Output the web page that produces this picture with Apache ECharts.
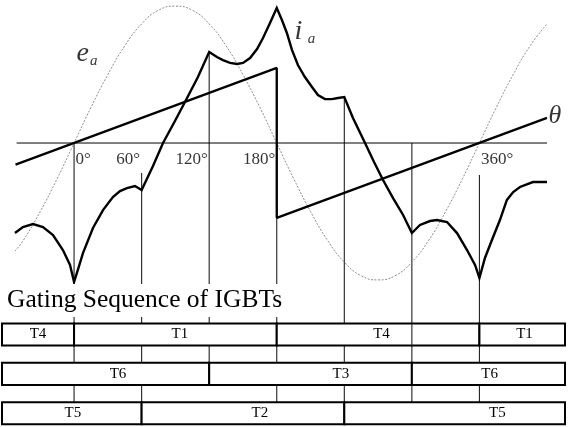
<!DOCTYPE html>
<html>
<head>
<meta charset="utf-8">
<script src="https://cdn.jsdelivr.net/npm/echarts@6/dist/echarts.min.js"></script>
<style>
  html, body { margin: 0; padding: 0; background: #fff; }
  #c { width: 571px; height: 427px; }
</style>
</head>
<body>
<div id="c"></div>
<script>
// ---- phase-a waveforms against electrical angle (degrees) ----
// phase voltage e_a (per unit)
const eaAngles = [-52.5, -45, -30, -15, 0, 15, 30, 45, 60, 75, 90, 105, 120, 135, 150, 165, 180,
  195, 210, 225, 240, 255, 270, 285, 300, 315, 330, 345, 360, 375, 390, 405, 420];
const eaValues = [-0.79, -0.71, -0.5, -0.26, 0, 0.26, 0.5, 0.71, 0.87, 0.97, 1, 0.97, 0.87, 0.71, 0.5, 0.26, 0,
  -0.26, -0.5, -0.71, -0.87, -0.97, -1, -0.97, -0.87, -0.71, -0.5, -0.26, 0, 0.26, 0.5, 0.71, 0.87];

// phase current i_a (per unit)
const iaAngles = [-52.5, -45.4, -36.5, -27.6, -18.7, -9.9, -3.6, 0,
  4.4, 7.9, 16.8, 25.7, 34.5, 40.8, 47.0, 54.1, 60,
  70.1, 79.0, 89.6, 98.5, 110.0, 120,
  126.9, 132.2, 138.5, 144.7, 150.0, 156.3, 162.5, 167.8, 174.0, 180,
  184.6, 189.0, 193.5, 198.8, 205.0, 211.3, 216.6, 222.8, 229.0, 234.4, 240,
  247.7, 258.4, 266.4, 274.4, 283.3, 292.2, 300,
  307.2, 316.1, 322.3, 331.2, 340.1, 349.0, 356.1, 360,
  364.9, 371.1, 378.2, 384.4, 390.0, 396.0, 407.5, 420];
const iaValues = [-0.658, -0.614, -0.592, -0.614, -0.672, -0.782, -0.891, -1.016,
  -0.899, -0.804, -0.621, -0.490, -0.395, -0.351, -0.329, -0.314, -0.343,
  -0.168, 0, 0.161, 0.300, 0.482, 0.665,
  0.628, 0.606, 0.585, 0.577, 0.585, 0.621, 0.687, 0.767, 0.877, 0.986,
  0.899, 0.804, 0.680, 0.570, 0.482, 0.409, 0.351, 0.321, 0.321, 0.329, 0.336,
  0.183, 0, -0.139, -0.270, -0.402, -0.526, -0.658,
  -0.599, -0.570, -0.563, -0.577, -0.658, -0.782, -0.891, -0.986,
  -0.840, -0.709, -0.563, -0.416, -0.358, -0.321, -0.285, -0.285];

// rotor position theta (wraps from +180 to -180 degrees)
const thetaAngles = [-52, 180, 180, 420];
const thetaValues = [-52, 180, -180, 60];

// horizontal reference axis extent
const axisSpan = [-51, 420];

// angle tick labels
const tickAngles = [0, 60, 120, 180, 360];
const tickText = ['0°', '60°', '120°', '180°', '360°'];

// switching instants: angle, upper end (per unit), last gating row reached
const markAngles = [0, 60, 120, 180, 240, 300, 360];
const markTops = [0, -0.219, 0.665, 0.548, 0.336, 0, -0.234];
const markLastRow = [2, 2, 1, 2, 2, 2, 2];

// gating sequence rows: device names, edges (degrees), text anchor (degrees)
const gateRow1Names = ['T4', 'T1', 'T4', 'T1'];
const gateRow1Edges = [-64, 0, 180, 360, 436];
const gateRow1TextAt = [-32, 94, 273, 400];
const gateRow2Names = ['T6', 'T3', 'T6'];
const gateRow2Edges = [-64, 120, 300, 436];
const gateRow2TextAt = [39, 237, 369];
const gateRow3Names = ['T5', 'T2', 'T5'];
const gateRow3Edges = [-64, 60, 240, 436];
const gateRow3TextAt = [-1, 165, 376];

// curve names: main letter, subscript, anchor [angle, per unit]
const curveNames = [
  { main: 'e', sub: 'a', at: [2.6, 0.762] },
  { main: 'i', sub: 'a', at: [196.2, 0.919] },
  { main: 'θ', sub: '', at: [421.8, 0.30] }
];

const chart = echarts.init(document.getElementById('c'), null, { renderer: 'canvas' });
const SERIF = '"Liberation Serif", "Times New Roman", serif';
const ROW_HALF = 0.28;

const zip = (a, b) => a.map((v, i) => [v, b[i]]);

const cells = [];
[[gateRow1Names, gateRow1Edges, gateRow1TextAt],
 [gateRow2Names, gateRow2Edges, gateRow2TextAt],
 [gateRow3Names, gateRow3Edges, gateRow3TextAt]].forEach(([names, edges, at], row) => {
  names.forEach((n, i) => cells.push({ row, from: edges[i], to: edges[i + 1], at: at[i], name: n }));
});

function tableItem(params, api) {
  const c = cells[params.dataIndex];
  const a = api.coord([c.from, c.row - ROW_HALF]);
  const b = api.coord([c.to, c.row + ROW_HALF]);
  const t = api.coord([c.at, c.row]);
  return {
    type: 'group',
    children: [
      { type: 'rect',
        shape: { x: a[0], y: Math.min(a[1], b[1]), width: b[0] - a[0], height: Math.abs(b[1] - a[1]) },
        style: { fill: '#fff', stroke: '#000', lineWidth: 2 } },
      { type: 'text', x: t[0], y: t[1],
        style: { text: c.name, fill: '#000', font: '15px ' + SERIF, align: 'center', verticalAlign: 'middle' } }
    ]
  };
}

function vline(params, api) {
  const p = api.coord([api.value(0), api.value(1)]);
  const q = api.coord([api.value(0), api.value(2)]);
  return { type: 'line', shape: { x1: p[0], y1: p[1], x2: q[0], y2: q[1] },
           style: { stroke: '#222', lineWidth: 1.1 } };
}

const option = {
  animation: false,
  grid: { left: 2, right: 6, top: 0, bottom: 0 },
  xAxis: { type: 'value', min: -64, max: 436, show: false },
  yAxis: [
    { type: 'value', min: -2.075, max: 1.045, show: false },
    { type: 'value', min: -682, max: 343, show: false },
    { type: 'value', min: -8.5, max: 2.35, inverse: true, show: false }
  ],
  title: {
    text: 'Gating Sequence of IGBTs',
    left: 3, top: 284,
    padding: [3, 4, 4, 4],
    backgroundColor: '#fff',
    textStyle: { fontFamily: SERIF, fontSize: 25.5, fontWeight: 'normal', color: '#000' }
  },
  series: [
    { id: 'marks', type: 'custom', xAxisIndex: 0, yAxisIndex: 0, z: 1, silent: true,
      renderItem: vline, data: [] },
    { name: 'e_a', type: 'line', xAxisIndex: 0, yAxisIndex: 0, z: 2, silent: true,
      data: zip(eaAngles, eaValues), smooth: true, symbol: 'none',
      lineStyle: { color: '#808080', width: 0.9, type: [2, 1.5] } },
    { name: 'axis', type: 'line', xAxisIndex: 0, yAxisIndex: 0, z: 2, silent: true,
      data: [[axisSpan[0], 0], [axisSpan[1], 0]], symbol: 'none',
      lineStyle: { color: '#000', width: 1 } },
    { name: 'theta', type: 'line', xAxisIndex: 0, yAxisIndex: 1, z: 3, silent: true,
      data: zip(thetaAngles, thetaValues), symbol: 'none',
      lineStyle: { color: '#000', width: 2.3 } },
    { name: 'i_a', type: 'line', xAxisIndex: 0, yAxisIndex: 0, z: 3, silent: true,
      data: zip(iaAngles, iaValues), symbol: 'none',
      lineStyle: { color: '#000', width: 2.4, join: 'miter', miterLimit: 4 } },
    { name: 'ticks', type: 'scatter', xAxisIndex: 0, yAxisIndex: 0, z: 4, silent: true,
      symbolSize: 1, itemStyle: { color: 'transparent' },
      data: tickAngles.map((a, i) => {
        const leftSide = (a % 360 === 0);
        return {
          value: [a, 0],
          label: { show: true, formatter: tickText[i], fontFamily: SERIF, fontSize: 17, color: '#000',
                   position: [leftSide ? 2 : -1, 9], align: leftSide ? 'left' : 'right', verticalAlign: 'top' }
        };
      }) },
    { name: 'names', type: 'scatter', xAxisIndex: 0, yAxisIndex: 0, z: 4, silent: true,
      symbolSize: 1, itemStyle: { color: 'transparent' },
      data: curveNames.map(c => ({
        value: c.at,
        label: {
          show: true, position: [0, 0], align: 'left', verticalAlign: 'top',
          formatter: c.sub ? '{m|' + c.main + '}{g| }{s|' + c.sub + '}' : '{m|' + c.main + '}',
          rich: {
            m: { fontFamily: SERIF, fontStyle: 'italic', fontSize: c.main === 'θ' ? 26 : 28, lineHeight: 30, color: '#000' },
            g: { fontSize: c.main === 'i' ? 20 : 4, lineHeight: 30 },
            s: { fontFamily: SERIF, fontStyle: 'italic', fontSize: 15, lineHeight: 8, verticalAlign: 'bottom', color: '#000' }
          }
        }
      })) },
    { id: 'table', type: 'custom', xAxisIndex: 0, yAxisIndex: 2, z: 5, silent: true,
      renderItem: tableItem, data: cells.map(c => [c.from, c.row]) },
    { id: 'overlay', type: 'custom', xAxisIndex: 0, yAxisIndex: 0, z: 6, silent: true,
      renderItem: vline, data: [] }
  ]
};

chart.setOption(option);

// lower ends of the switching lines sit on the top edge of the gating rows
function rowEdgeOnWave(angle, rowValue) {
  const px = chart.convertToPixel({ xAxisIndex: 0, yAxisIndex: 2 }, [angle, rowValue]);
  return chart.convertFromPixel({ xAxisIndex: 0, yAxisIndex: 0 }, px)[1];
}
const markData = markAngles.map((a, i) => [a, markTops[i], rowEdgeOnWave(a, markLastRow[i] - ROW_HALF)]);
// the 300 degree line also shows across the first gating row
const overlayData = [[300, rowEdgeOnWave(300, 0 - ROW_HALF), rowEdgeOnWave(300, 0 + ROW_HALF)]];

chart.setOption({ series: [{ id: 'marks', data: markData }, { id: 'overlay', data: overlayData }] });
</script>
</body>
</html>
